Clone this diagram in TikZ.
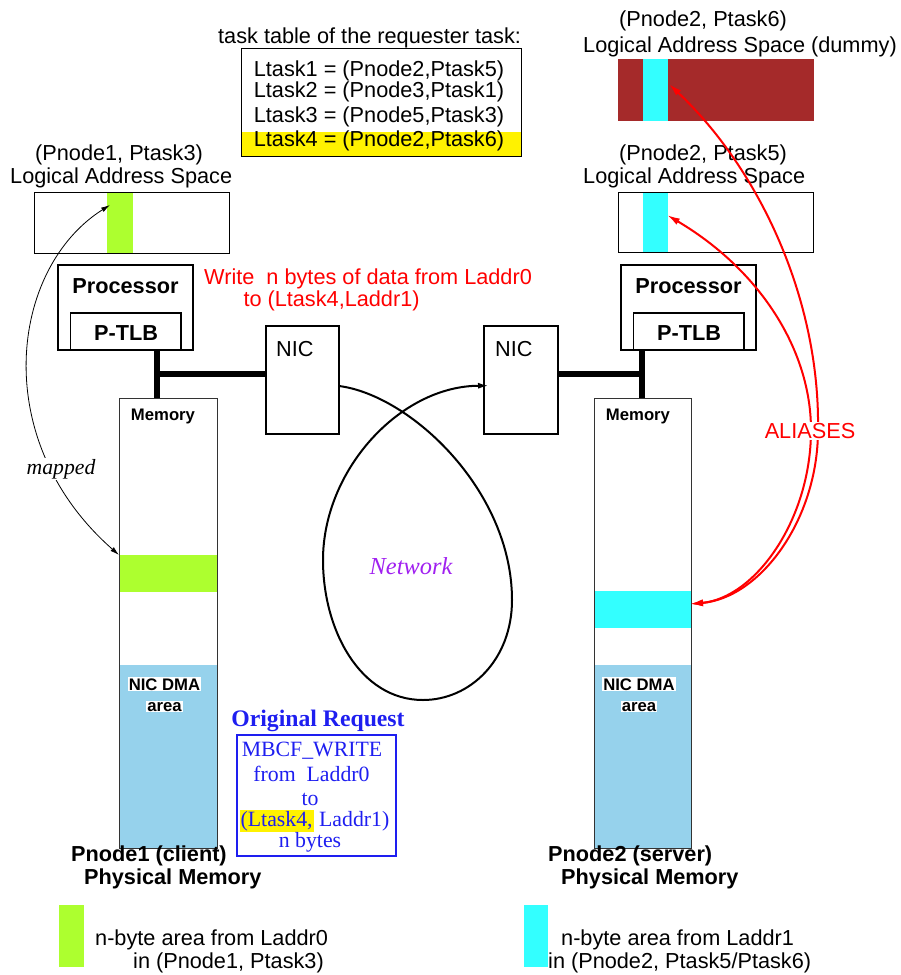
\documentclass[tikz,border=0pt]{standalone}
\usepackage{fontspec}
\setmainfont{Liberation Serif}
\setsansfont{Liberation Sans}
\usetikzlibrary{arrows.meta}
\definecolor{grnarea}{RGB}{173,255,47}
\definecolor{cyanarea}{RGB}{51,255,255}
\definecolor{dummybrown}{RGB}{165,42,42}
\definecolor{dmablue}{RGB}{150,210,236}
\definecolor{reqblue}{RGB}{30,30,240}
\definecolor{netpurple}{RGB}{160,32,240}
\definecolor{alired}{RGB}{255,0,0}

\begin{document}
\begin{tikzpicture}[x=1pt,y=-1pt,
  txt/.style={inner sep=0pt, anchor=base},
  txtl/.style={inner sep=0pt, anchor=base west},
  sf/.style={font=\fontsize{21.7}{26}\selectfont\sffamily},
  sfb/.style={font=\fontsize{21.7}{26}\selectfont\sffamily\bfseries},
  sfsmall/.style={font=\fontsize{16.7}{20}\selectfont\sffamily\bfseries},
  rm/.style={font=\fontsize{21.8}{24}\selectfont\rmfamily},
  rmit/.style={font=\fontsize{21.7}{24}\selectfont\rmfamily\itshape},
  blk/.style={inner sep=0pt, outer sep=0pt, anchor=north west},
  thinbox/.style={blk, draw, line width=1pt},
  procbox/.style={blk, draw, line width=2.6pt},
  tlbbox/.style={blk, draw, line width=1.4pt},
  nicbox/.style={blk, draw, line width=2pt},
  membox/.style={blk, draw=black!80, line width=1pt},
  bus/.style={line width=6.7pt},
  maparrow/.style={line width=0.8pt, {Latex[length=9pt,width=5pt]}-{Latex[length=9pt,width=5pt]}},
  aliasarrow/.style={alired, line width=2pt, {Latex[length=13pt,width=7pt]}-{Latex[length=13pt,width=7pt]}},
  netarrow/.style={line width=2pt, -{Latex[length=11pt,width=6pt]}},
  whitelabel/.style={fill=white, inner sep=1pt}
]
\useasboundingbox (0,0) rectangle (900,975);

% ---------- task table ----------
\node[txtl, sf] (tthead) at (218,43.5) {task table of the requester task:};
\fill[yellow] (241.7,131.7) rectangle (521.7,156.7);
\node[thinbox, minimum width=280, minimum height=108.4] (tt) at (241.7,48.3) {};
\node[txt, sf] (lt1) at (379,76) {Ltask1 = (Pnode2,Ptask5)};
\node[txt, sf] (lt2) at (379,97.5) {Ltask2 = (Pnode3,Ptask1)};
\node[txt, sf] (lt3) at (379,122) {Ltask3 = (Pnode5,Ptask3)};
\node[txt, sf] (lt4) at (379,146.7) {Ltask4 = (Pnode2,Ptask6)};

% ---------- logical address spaces ----------
\node[txtl, sf] (lasLa) at (35,160.5) {(Pnode1, Ptask3)};
\node[txtl, sf] (lasLb) at (10,183.8) {Logical Address Space};
\node[blk, fill=grnarea, minimum width=26, minimum height=61] (strL) at (106.7,192) {};
\node[thinbox, minimum width=194.3, minimum height=61] (lasL) at (34.7,192) {};

\node[txtl, sf] (las5a) at (619,160) {(Pnode2, Ptask5)};
\node[txtl, sf] (las5b) at (583,183.5) {Logical Address Space};
\node[blk, fill=cyanarea, minimum width=25, minimum height=60] (str5) at (643,192.5) {};
\node[thinbox, minimum width=195, minimum height=60] (las5) at (618,192.5) {};

\node[txtl, sf] (las6a) at (619,26.8) {(Pnode2, Ptask6)};
\node[txtl, sf] (las6b) at (583,52.5) {Logical Address Space (dummy)};
\node[blk, fill=dummybrown, minimum width=196, minimum height=61.4] (las6) at (618,59.3) {};
\node[blk, fill=cyanarea, minimum width=25, minimum height=61.4] (str6) at (643,59.3) {};

% ---------- processors ----------
\node[procbox, minimum width=135, minimum height=85] (procL) at (58,265) {};
\node[tlbbox, minimum width=110.3, minimum height=37] (tlbL) at (70.7,313) {};
\node[txt, sfb] at (125.5,293) {Processor};
\node[txt, sfb] at (126,340) {P-TLB};

\node[procbox, minimum width=135, minimum height=85] (procR) at (621,265) {};
\node[tlbbox, minimum width=110.3, minimum height=37] (tlbR) at (633.7,313) {};
\node[txt, sfb] at (688.5,293) {Processor};
\node[txt, sfb] at (689,340) {P-TLB};

% ---------- NICs ----------
\node[nicbox, minimum width=73.3, minimum height=108.3] (nicL) at (265.7,325.7) {};
\node[nicbox, minimum width=74, minimum height=108.3] (nicR) at (484,325.7) {};
\node[txtl, sf] at (276,356.7) {NIC};
\node[txtl, sf] at (495,356.7) {NIC};

% ---------- physical memories ----------
\node[blk, fill=grnarea, minimum width=98, minimum height=37] (bandL) at (119,555) {};
\node[blk, fill=dmablue, minimum width=98, minimum height=183] (dmaL) at (119,665) {};
\node[membox, minimum width=98, minimum height=450] (memL) at (119,398) {};
\node[txt, sfsmall] at (163,420.5) {Memory};
\node[txt, sfsmall, whitelabel] at (164.5,690) {NIC DMA};
\node[txt, sfsmall, whitelabel] at (164.5,711) {area};

\node[blk, fill=cyanarea, minimum width=97.7, minimum height=36.7] (bandR) at (594,591) {};
\node[blk, fill=dmablue, minimum width=97.7, minimum height=183] (dmaR) at (594,665) {};
\node[membox, minimum width=97.7, minimum height=450] (memR) at (594,398) {};
\node[txt, sfsmall] at (638,420.5) {Memory};
\node[txt, sfsmall, whitelabel] at (639,690) {NIC DMA};
\node[txt, sfsmall, whitelabel] at (639,711) {area};

% ---------- buses ----------
\coordinate (busL) at (157,374);
\coordinate (busR) at (642,374);
\draw[bus] (busL |- procL.south) -- (busL |- memL.north);
\draw[bus] (busL) -- (nicL.west |- busL);
\draw[bus] (busR |- procR.south) -- (busR |- memR.north);
\draw[bus] (busR) -- (nicR.east |- busR);

% ---------- request text ----------
\node[inner sep=0pt, anchor=base west, text=alired, align=left,
      font=\fontsize{21.7}{19.5}\selectfont\sffamily] (wrtext) at (204,306)
  {Write\ \ n bytes of data from Laddr0\\\hspace*{39.3pt}to (Ltask4,Laddr1)};

% ---------- network ----------
\coordinate (netout) at (339,386);
\coordinate (netin) at (489,385.7);
\draw[netarrow] (netout) .. controls (410,395) and (512,490) .. (512,600)
  .. controls (512,660) and (470,700) .. (423,700)
  .. controls (360,700) and (323,630) .. (323,560)
  .. controls (323,470) and (400,386) .. (netin);
\node[font=\fontsize{24.4}{26}\selectfont\rmfamily\itshape, text=netpurple, inner sep=0pt] (netlbl) at (411,566) {Network};

% ---------- mapping ----------
\coordinate (mapTop) at (110,205);
\draw[maparrow] (mapTop) .. controls (10,268) and (-12,440) .. (bandL.north west);
\node[rmit, whitelabel] (maplbl) at (61,469) {mapped};

% ---------- aliases ----------
\coordinate (aliMem) at (690,604);
\coordinate (ali5) at (667,215);
\coordinate (ali6) at (669,84);
\draw[aliasarrow] (aliMem) .. controls (760,598) and (818,520) .. (818,430) .. controls (820,300) and (760,170) .. (ali6);
\draw[aliasarrow] (aliMem) .. controls (755,598) and (811,520) .. (811,430) .. controls (811,350) and (760,270) .. (ali5);
\node[sf, text=alired, fill=white, inner sep=1pt] (alilbl) at (810,431) {ALIASES};

% ---------- original request ----------
\node[txt, font=\fontsize{23.7}{26}\selectfont\rmfamily\bfseries, text=reqblue] at (318,726) {Original Request};
\node[blk, draw=reqblue, line width=1.3pt, minimum width=159, minimum height=121] (req) at (237,735) {};
\node[txt, rm, text=reqblue] at (312,756) {MBCF\_WRITE};
\node[txt, rm, text=reqblue] at (311.5,781) {from\ \ Laddr0};
\node[txt, rm, text=reqblue] at (310,805) {to};
\node[txt, rm, text=reqblue] at (314.5,826.5) {\setlength{\fboxsep}{1pt}\colorbox{yellow}{(Ltask4,} Laddr1)};
\node[txt, rm, text=reqblue] at (310,847) {n bytes};

% ---------- captions ----------
\node[txtl, sfb] at (71,861) {Pnode1 (client)};
\node[txtl, sfb] at (84,884.5) {Physical Memory};
\node[txtl, sfb] at (548,861) {Pnode2 (server)};
\node[txtl, sfb] at (561,884.5) {Physical Memory};

% ---------- legend ----------
\node[blk, fill=grnarea, minimum width=25, minimum height=62] (legL) at (59,905) {};
\node[txtl, sf] at (95,945.5) {n-byte area from Laddr0};
\node[txtl, sf] at (133,968.5) {in (Pnode1, Ptask3)};
\node[blk, fill=cyanarea, minimum width=24, minimum height=62] (legR) at (524,905) {};
\node[txtl, sf] at (561,945.5) {n-byte area from Laddr1};
\node[txtl, sf] at (548,968.5) {in (Pnode2, Ptask5/Ptask6)};
\end{tikzpicture}
\end{document}
